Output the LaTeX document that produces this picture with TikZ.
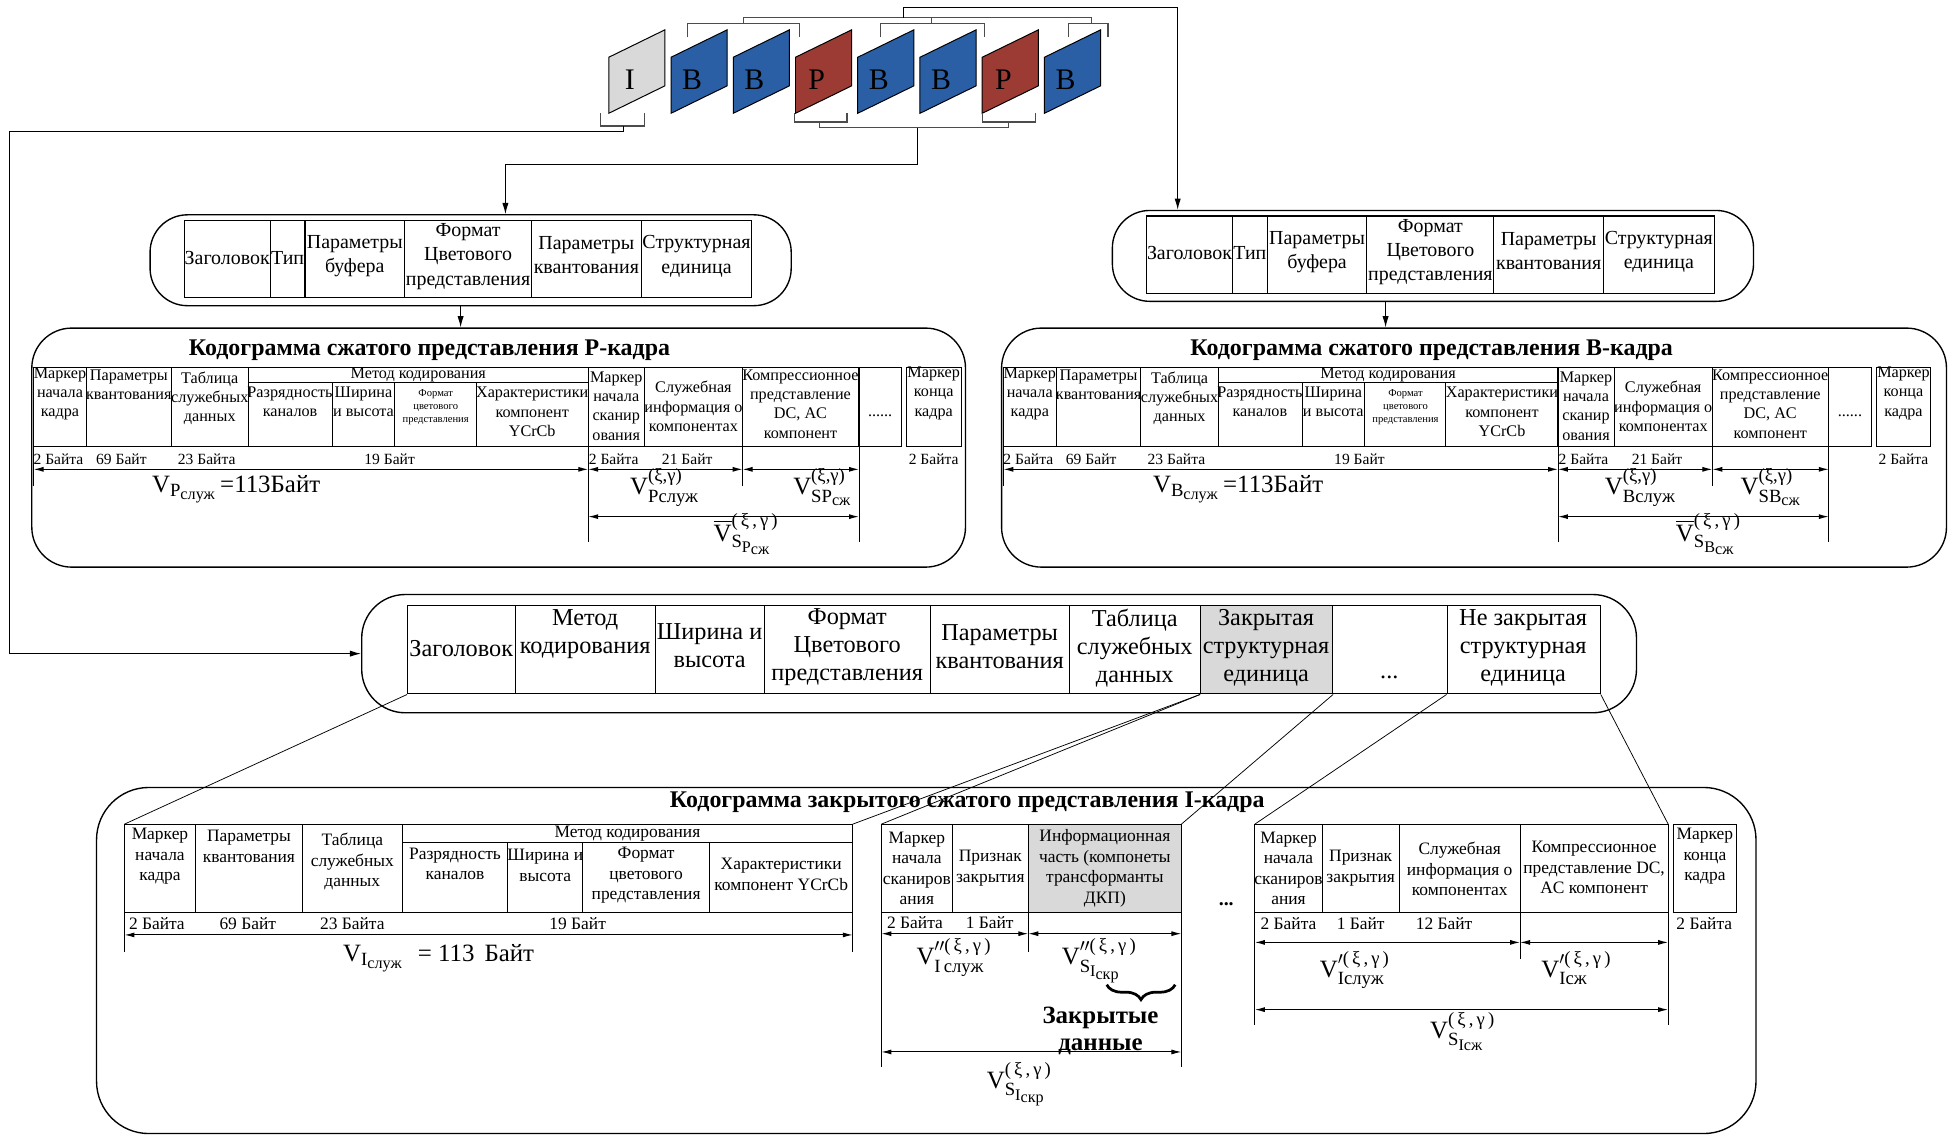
\documentclass[tikz,border=0pt]{standalone}
\usepackage{amsmath}
\usepackage{fontspec}
\setmainfont{Liberation Serif}
\usetikzlibrary{arrows.meta,decorations.pathreplacing}
\definecolor{bblue}{HTML}{2A5FA6}
\definecolor{pred}{HTML}{9C3B34}
\definecolor{igray}{HTML}{D9D9D9}
\DeclareMathSizes{20}{20}{15}{13}
\newcommand\fs[2]{\fontsize{#1}{#2}\selectfont}
\newcommand\txt[1]{\text{#1}}
\newcommand\xg{\txt{(\,ξ\,,\,γ\,)}}
\newcounter{tn}
\newcommand\T[3][]{\stepcounter{tn}\node[tx,#1] (n\arabic{tn}) at (#2) {#3};}
\tikzset{
  frm/.style={draw=black,line width=0.8pt,line join=miter},
  brk/.style={draw=black!70,line width=1pt},
  conn/.style={draw=black,line width=0.8pt},
  thinl/.style={draw=black,line width=0.6pt},
  arr/.style={conn,-{Latex[length=9pt,width=5pt]}},
  dim/.style={draw=black,line width=0.8pt,{Latex[length=8pt,width=4pt]}-{Latex[length=8pt,width=4pt]}},
  ext/.style={draw=black,line width=0.7pt},
  tbl/.style={draw=black,line width=0.85pt},
  obox/.style={draw=black,line width=1.1pt,inner sep=0pt},
  mcell/.style={draw=black,line width=0.85pt,inner sep=0pt,minimum height=71,anchor=north west},
  tx/.style={inner sep=0pt,align=center},
  f24/.style={font=\fs{24}{28}},
  f16/.style={font=\fs{16}{19.5}},
  f13/.style={font=\fs{13}{15.5}},
  fb/.style={font=\fs{12.5}{15}},
  f9/.style={font=\fs{8.5}{10.5}},
  f19/.style={font=\fs{19.5}{22.5}},
  f14/.style={font=\fs{14}{16.5}},
  lab/.style={font=\fs{20}{23},anchor=base west},
  ftitle/.style={font=\fs{19.2}{22}\bfseries},
}
\newcommand\vframe[4]{%
  \draw[frm,fill=#2] (#1,91) -- (#1,46) -- ++(45,-22) -- ++(0,45) -- cycle;
  \node[tx,f24,xshift=17pt] (#4) at (#1,64) {#3};}
\newcommand\hdrtab[3]{%
\begin{scope}[shift={(#2,#3)}]
\node[obox,rounded corners=30,minimum width=515,minimum height=73,anchor=north west] (#1) at (-28,-5) {};
\draw[tbl] (0,0) rectangle (456,62);
\draw[tbl] (69,0) -- (69,62) (97,0) -- (97,62) (177,0) -- (177,62) (279,0) -- (279,62) (367,0) -- (367,62);
\T[f16]{34.5,30}{Заголовок}
\T[f16]{83,30}{Тип}
\T[f16]{137,29}{Параметры\\буфера}
\T[f16]{228,29}{Формат\\Цветового\\представления}
\T[f16]{323,28}{Параметры\\квантования}
\T[f16]{411.5,29}{Структурная\\единица}
\end{scope}}
\newcommand\kodo[8]{%
\begin{scope}[xshift=#2pt]
\node[obox,rounded corners=32,minimum width={#4-25},minimum height=192,anchor=north west] (k#1) at (25,263) {};
\node[tx,ftitle] (t#1) at (#3,281) {Кодограмма сжатого представления #1-кадра};
\draw[tbl] (27,295) rectangle (724.5,359);
\draw[tbl] (728.5,295) rectangle (772,359);
\draw[tbl] (69.5,295) -- (69.5,359) (137.5,295) -- (137.5,359) (199.5,295) -- (199.5,359)
  (472.5,295) -- (472.5,359) (518,295) -- (518,359) (596.5,295) -- (596.5,359) (690,295) -- (690,359)
  (199.5,307) -- (472.5,307) (267,307) -- (267,359) (317,307) -- (317,359) (382.5,307) -- (382.5,359);
\T[f13]{48.2,316.5}{Маркер\\начала\\кадра}
\T[f13]{103.5,309}{Параметры\\квантования}
\T[f13]{168.5,320}{Таблица\\служебных\\данных}
\T[f13]{336,301}{Метод кодирования}
\T[f13]{233,323}{Разрядность\\каналов}
\T[f13]{292,323}{Ширина\\и высота}
\T[f9]{350,327}{Формат\\цветового\\представления}
\T[f13]{427.5,331}{Характеристики\\компонент\\YCrCb}
\T[f13]{495,326}{Маркер\\начала\\сканир\\ования}
\T[f13]{557,326.5}{Служебная\\информация о\\компонентах}
\T[f13]{643,324.5}{Компрессионное\\представление\\DC, AC\\компонент}
\T[f13]{707,334}{......}
\T[f13]{750,316}{Маркер\\конца\\кадра}
\T[fb]{47,369}{2 Байта}
\T[fb]{97.5,369}{69 Байт}
\T[fb]{166,369}{23 Байта}
\T[fb]{313,369}{19 Байт}
\T[fb]{493,369}{2 Байта}
\T[fb]{552,369}{21 Байт}
\T[fb]{750,369}{2 Байта}
\draw[dim] (27,377) -- (472.5,377);
\draw[dim] (472.5,377) -- (596.5,377);
\draw[dim] (596.5,377) -- (690,377);
\draw[dim] (472.5,415) -- (690,415);
\draw[ext] (27,359) -- (27,390) (472.5,359) -- (472.5,435) (596.5,359) -- (596.5,390) (690,359) -- (690,435);
\T[lab]{#5,396}{$\txt{V}_{\txt{#1}_{\txt{служ}}}$\,=113Байт}
\T[lab]{#6,397.5}{$\txt{V}^{\txt{(ξ,γ)}}_{\txt{#1служ}}$}
\T[lab]{#7,397.5}{$\txt{V}^{\txt{(ξ,γ)}}_{\txt{S#1}_{\txt{сж}}}$}
\T[lab]{#8,435}{$\overline{\txt{V}}^{\xg}_{\txt{S}_{\txt{#1}_{\txt{сж}}}}$}
\end{scope}}
\begin{document}
\begin{tikzpicture}[x=1pt,y=-1pt]
\useasboundingbox (0,0) rectangle (1568,913);
% ---------- frames ----------
\vframe{489}{igray}{I}{fI}
\vframe{539}{bblue}{B}{fB1}
\vframe{589}{bblue}{B}{fB2}
\vframe{639}{pred}{P}{fP1}
\vframe{689}{bblue}{B}{fB3}
\vframe{739}{bblue}{B}{fB4}
\vframe{789}{pred}{P}{fP2}
\vframe{839}{bblue}{B}{fB5}
% ---------- header tables ----------
\hdrtab{topP}{148}{177}
\hdrtab{topB}{921}{173.5}
% ---------- codograms P and B ----------
\kodo{P}{0}{345}{775}{122}{506}{637}{573}
\kodo{B}{779}{371}{784}{147}{510}{619}{567}
% ---------- brackets and connectors ----------
\draw[brk] (552,30) -- (552,18.7) -- (642,18.7) -- (642,30);
\draw[brk] (707,30) -- (707,18.7) -- (791,18.7) -- (791,30);
\draw[brk] (858,30) -- (858,18.7) -- (890,18.7) -- (890,30);
\draw[brk] (597,18.7) -- (597,14.2) -- (876.7,14.2) -- (876.7,18.7);
\draw[brk] (748,18.7) -- (748,14.2);
\coordinate (cB) at (946,0);
\draw[arr] (725.5,14.2) -- (725.5,5.9) -- (946,5.9) -- (cB |- topB.north);
\draw[brk] (482.5,91) -- (482.5,101.2) -- (517.5,101.2) -- (517.5,91);
\draw[brk] (638,91) -- (638,98) -- (680.4,98) -- (680.4,91);
\draw[brk] (789.2,91) -- (789.2,98) -- (831.6,98) -- (831.6,91);
\draw[brk] (658,98) -- (658,102.6) -- (809.8,102.6) -- (809.8,98);
\coordinate (cP) at (406,0);
\draw[arr] (737,102.6) -- (737,132.5) -- (406,132.5) -- (cP |- topP.north);
\coordinate (cP2) at (370,0);
\draw[arr] (cP2 |- topP.south) -- (cP2 |- kP.north);
\coordinate (cB2) at (1113,0);
\draw[arr] (cB2 |- topB.south) -- (cB2 |- kB.north);
% ---------- middle (I-frame) box ----------
\node[obox,rounded corners=35,minimum width=1024,minimum height=95,anchor=north west] (mid) at (290,477) {};
\node[mcell,minimum width=87] (m1) at (327,486) {};
\node[mcell,minimum width=112] (m2) at (414,486) {};
\node[mcell,minimum width=88] (m3) at (526,486) {};
\node[mcell,minimum width=133] (m4) at (614,486) {};
\node[mcell,minimum width=112] (m5) at (747,486) {};
\node[mcell,minimum width=105] (m6) at (859,486) {};
\node[mcell,minimum width=106,fill=igray] (m7) at (964,486) {};
\node[mcell,minimum width=92] (m8) at (1070,486) {};
\node[mcell,minimum width=123] (m9) at (1162,486) {};
\T[f19]{370.5,521}{Заголовок}
\T[f19]{470,509.5}{Метод\\кодирования}
\T[f19]{570,518.5}{Ширина и\\высота}
\T[f19]{680.5,519.5}{Формат\\Цветового\\представления}
\T[f19]{803,519.5}{Параметры\\квантования}
\T[f19]{911.5,520.5}{Таблица\\служебных\\данных}
\T[f19]{1017,520.5}{Закрытая\\структурная\\единица}
\T[f19]{1116,544}{...}
\T[f19]{1223.5,520.5}{Не закрытая\\структурная\\единица}
\coordinate (cL) at (8,0);
\draw[arr] (501,101.2) -- (501,105.5) -- (8,105.5) -- (cL |- mid.west) -- (mid.west);
% ---------- bottom box ----------
\node[obox,rounded corners=42,minimum width=1333,minimum height=278,anchor=north west] (bot) at (77,632) {};
\node[tx,ftitle] (tI) at (777,644) {Кодограмма закрытого сжатого представления I-кадра};
% section 1
\draw[tbl] (100,662) rectangle (685,733);
\draw[tbl] (157,662) -- (157,733) (243,662) -- (243,733) (323,662) -- (323,733)
  (323,677) -- (685,677) (408,677) -- (408,733) (468,677) -- (468,733) (570,677) -- (570,733);
\T[f14]{128.5,688}{Маркер\\начала\\кадра}
\T[f14]{200,680}{Параметры\\квантования}
\T[f14]{283,692}{Таблица\\служебных\\данных}
\T[f14]{504,669.5}{Метод кодирования}
\T[f14]{365.5,694}{Разрядность\\каналов}
\T[f14]{438,695}{Ширина и\\высота}
\T[f14]{519,703}{Формат\\цветового\\представления}
\T[f14]{627.5,702.5}{Характеристики\\компонент YCrCb}
\T[f14]{126,742}{2 Байта}
\T[f14]{199,742}{69 Байт}
\T[f14]{283,742}{23 Байта}
\T[f14]{464,742}{19 Байт}
\draw[dim] (100,751) -- (685,751);
\draw[ext] (100,733) -- (100,765) (685,733) -- (685,765);
\T[lab]{275.5,772.5}{$\txt{V}_{\txt{I}_{\txt{служ}}}$\hspace{12pt}=\hspace{5pt}113\hspace{8pt}Байт}
% section 2
\fill[igray] (826,662) rectangle (949,733);
\draw[tbl] (708,662) rectangle (949,733);
\draw[tbl] (765,662) -- (765,733) (826,662) -- (826,733);
\T[f14]{736.5,697.5}{Маркер\\начала\\сканиров\\ания}
\T[f14]{795.5,697.5}{Признак\\закрытия}
\T[f14]{887.5,697.5}{Информационная\\часть (компонеты\\трансформанты\\ДКП)}
\T[f14]{735,741}{2 Байта}
\T[f14]{795,741}{1 Байт}
\draw[dim] (708,750) -- (826,750);
\draw[dim] (826,750) -- (949,750);
\draw[ext] (708,733) -- (708,857) (826,733) -- (826,765) (949,733) -- (949,857);
\T[lab]{736,775}{$\txt{V}^{\prime\prime\xg}_{\txt{I\,служ}}$}
\T[lab]{852.7,775}{$\txt{V}^{\prime\prime\xg}_{\txt{S}_{\txt{I}_{\txt{скр}}}}$}
\draw[decorate,decoration={brace,amplitude=12pt,mirror},line width=2.2pt] (889,791) -- (944,791);
\T[font=\fs{20}{21.5}\bfseries,anchor=base]{884,843.5}{Закрытые\\данные}
\draw[dim] (708,845) -- (949,845);
\T[lab]{792.5,874}{$\txt{V}^{\xg}_{\txt{S}_{\txt{I}_{\txt{скр}}}}$}
\T[font=\fs{16}{19}\bfseries]{985,726}{...}
% section 3
\draw[tbl] (1008,662) rectangle (1340,733);
\draw[tbl] (1062,662) -- (1062,733) (1124,662) -- (1124,733) (1221,662) -- (1221,733);
\draw[tbl] (1344,662) rectangle (1395,733);
\T[f14]{1035,697.5}{Маркер\\начала\\сканиров\\ания}
\T[f14]{1093,697.5}{Признак\\закрытия}
\T[f14]{1172.5,698}{Служебная\\информация о\\компонентах}
\T[f14]{1280.5,697}{Компрессионное\\представление DC,\\AC компонент}
\T[f14]{1369.5,688}{Маркер\\конца\\кадра}
\T[f14]{1035,742}{2 Байта}
\T[f14]{1093,742}{1 Байт}
\T[f14]{1160,742}{12 Байт}
\T[f14]{1369,742}{2 Байта}
\draw[dim] (1008,757) -- (1221,757);
\draw[dim] (1221,757) -- (1340,757);
\draw[ext] (1008,733) -- (1008,823) (1221,733) -- (1221,770) (1340,733) -- (1340,823);
\T[lab]{1060,785}{$\txt{V}^{\prime\xg}_{\txt{Iслуж}}$}
\T[lab]{1238,785}{$\txt{V}^{\prime\xg}_{\txt{Iсж}}$}
\draw[dim] (1008,811) -- (1340,811);
\T[lab]{1148.6,834}{$\txt{V}^{\xg}_{\txt{S}_{\txt{Iсж}}}$}
% zoom-in lines
\coordinate (s1a) at (100,662);
\coordinate (s1b) at (685,662);
\coordinate (s2a) at (708,662);
\coordinate (s2b) at (949,662);
\coordinate (s3a) at (1008,662);
\coordinate (s3b) at (1340,662);
\draw[thinl] (m1.south west) -- (s1a);
\draw[thinl] (m7.south west) -- (s1b);
\draw[thinl] (m7.south west) -- (s2a);
\draw[thinl] (m7.south east) -- (s2b);
\draw[thinl] (m9.south west) -- (s3a);
\draw[thinl] (m9.south east) -- (s3b);
\end{tikzpicture}
\end{document}
